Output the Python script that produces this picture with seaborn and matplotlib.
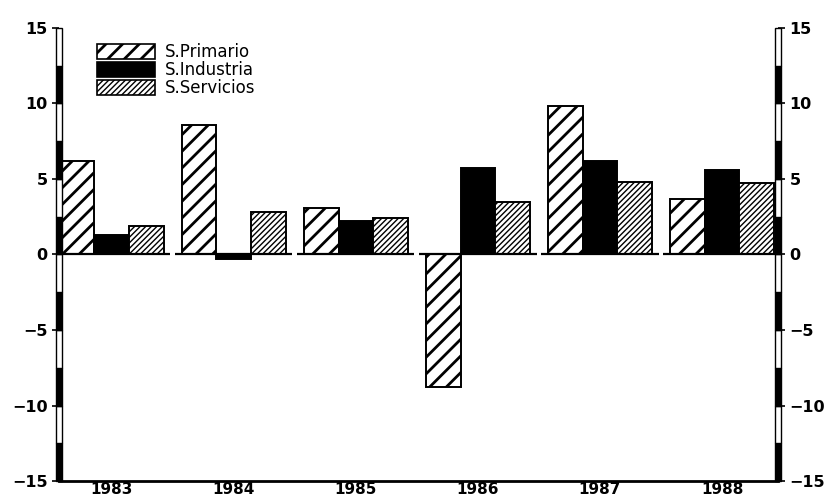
import matplotlib.pyplot as plt
import matplotlib.transforms as mtransforms
import pandas as pd
import seaborn as sns
from matplotlib.patches import Patch, Rectangle

# datos (variacion %, por sector)
years = ['1983', '1984', '1985', '1986', '1987', '1988']
sectores = ['S.Primario', 'S.Industria', 'S.Servicios']
primario = [6.2, 8.6, 3.1, -8.8, 9.8, 3.7]
industria = [1.3, -0.3, 2.2, 5.7, 6.2, 5.6]
servicios = [1.9, 2.8, 2.4, 3.5, 4.8, 4.7]
yticks = [-15, -10, -5, 0, 5, 10, 15]

df = pd.DataFrame({
    'año': years * 3,
    'sector': [s for s in sectores for _ in years],
    'valor': primario + industria + servicios,
})

sns.set_style('white')
plt.rcParams['font.family'] = ['DejaVu Sans']
plt.rcParams['hatch.color'] = 'black'
plt.rcParams['text.color'] = 'black'
plt.rcParams['xtick.color'] = 'black'
plt.rcParams['ytick.color'] = 'black'

# estilo de cada sector: relleno, trama, grosor de la trama
estilos = [('white', '//', 2.0), ('black', '', 1.0), ('white', '//////', 1.0)]

fig = plt.figure(figsize=(8.27, 4.98), dpi=100)
ax = fig.add_axes([0.071, 0.034, 0.87, 0.91])

sns.barplot(data=df, x='año', y='valor', hue='sector', hue_order=sectores,
            palette=[e[0] for e in estilos], saturation=1, width=0.85,
            edgecolor='black', linewidth=1.4, legend=False, ax=ax)

for cont, (fc, hatch, hlw) in zip(ax.containers, estilos):
    for bar in cont:
        bar.set_hatch(hatch)
        bar.set_hatch_linewidth(hlw)

# linea de cero por grupo
for i in range(len(years)):
    ax.hlines(0, i - 0.48, i + 0.48, color='black', lw=1.6, zorder=3)

ax.set_ylim(-15, 15)
ax.set_xlim(-0.434, 5.46)
ax.set_yticks(yticks)
ax.set_yticklabels([str(t).replace('-', '\u2212') for t in yticks])
ax.set_xlabel('')
ax.set_ylabel('')

for s in ['left', 'right', 'top']:
    ax.spines[s].set_visible(False)
ax.spines['bottom'].set_linewidth(2)
ax.spines['bottom'].set_color('black')

ax.tick_params(axis='y', direction='out', length=5, width=1.2, color='black',
               left=True, right=True, labelleft=True, labelright=True,
               labelsize=11.5, pad=3, labelcolor='black')
ax.tick_params(axis='x', length=0, labelsize=11, pad=1, labelcolor='black')
for lab in ax.get_xticklabels() + ax.get_yticklabels():
    lab.set_fontweight('bold')

# ejes verticales tipo escala blanco/negro
trans = mtransforms.blended_transform_factory(ax.transAxes, ax.transData)
w = 0.008
for xpos in [0.0, 1.0]:
    k = -6
    while k < 6:
        y0 = k * 2.5
        fc = 'black' if k % 2 == 0 else 'white'
        ax.add_patch(Rectangle((xpos - w / 2, y0), w, 2.5, transform=trans,
                               facecolor=fc, edgecolor='black', lw=1.0,
                               clip_on=False, zorder=5))
        k += 1

handles = [Patch(facecolor=fc, edgecolor='black', hatch=h, lw=1.2)
           for fc, h, _ in estilos]
leg = ax.legend(handles, sectores, loc='upper left', bbox_to_anchor=(0.053, 0.967),
                frameon=False, borderaxespad=0, borderpad=0, labelspacing=0,
                handlelength=3.5, handleheight=1.0, handletextpad=0.6,
                prop={'size': 12})
for p, (_, _, hlw) in zip(leg.get_patches(), estilos):
    p.set_hatch_linewidth(hlw)
for t in leg.get_texts():
    t.set_color('black')

fig.savefig('out.png', dpi=100)
